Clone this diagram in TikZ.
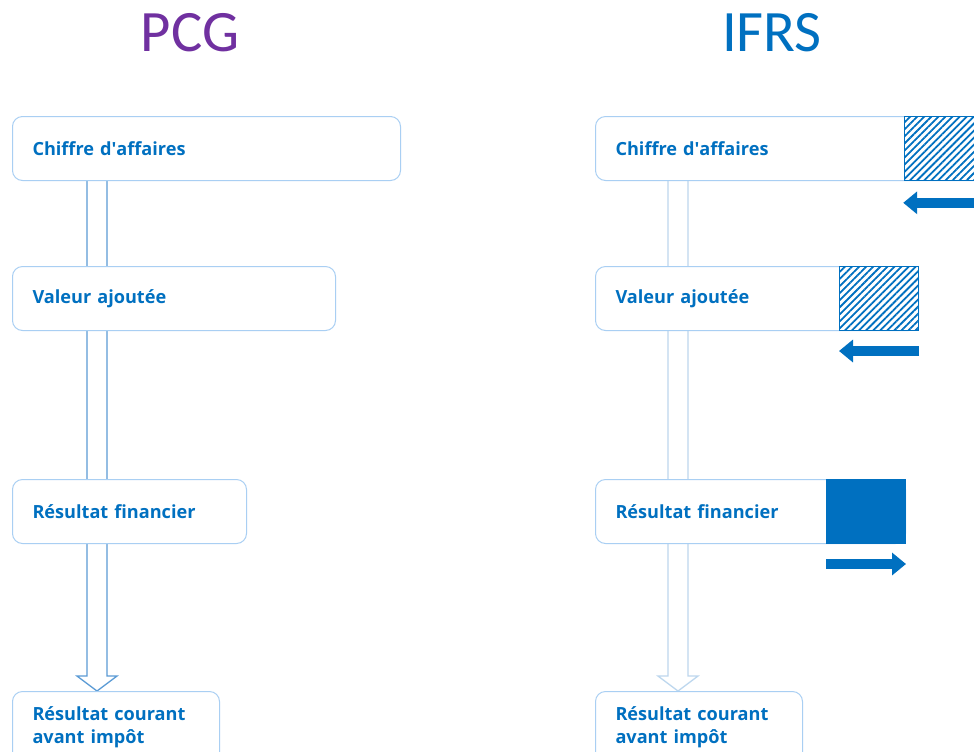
\documentclass[tikz,border=0pt]{standalone}
\usepackage{fontspec}
\setmainfont{Open Sans}
\newfontfamily\titrefont{Carlito}
\usetikzlibrary{calc,arrows.meta,patterns.meta}
\definecolor{IfrsBlue}{HTML}{0070C0}
\definecolor{PcgPurple}{HTML}{7030A0}
\definecolor{BoxLine}{HTML}{A9CFF3}
\definecolor{ArrowMid}{HTML}{5B9BD5}
\definecolor{ArrowPale}{HTML}{BDD7EE}
\newdimen\unitpx \unitpx=0.75pt
\pgfdeclarelayer{fond}
\pgfsetlayers{fond,main}
\tikzset{
    poste/.style={draw=BoxLine, fill=white, line width=1\unitpx, rounded corners=10\unitpx,
        anchor=north west, minimum height=64\unitpx, inner xsep=20\unitpx, inner ysep=0pt,
        text width=#1, align=left, text=IfrsBlue, font=\bfseries\fontsize{13.6}{17.25}\selectfont},
    carre/.style={anchor=north east, minimum width=79\unitpx, minimum height=64\unitpx,
        inner sep=0pt, draw=IfrsBlue, line width=1\unitpx},
    hachure/.style={carre, preaction={fill=white},
        pattern={Lines[angle=45,distance=3.75pt,line width=1.35pt]}, pattern color=IfrsBlue},
    plein/.style={carre, fill=IfrsBlue},
    bloc/.style={draw=IfrsBlue, line width=7.5pt, -{Triangle[length=10.5pt,width=16.5pt]}},
    creux/.style={line width=1.3\unitpx, line join=miter},
    titre/.style={font=\titrefont\fontsize{44}{50}\selectfont}
}
\begin{document}
\begin{tikzpicture}[x=\unitpx, y=-\unitpx]
    \clip (0,0) rectangle (974,751);
    \node[titre, text=PcgPurple] (tpcg) at (190,33) {PCG};
    \node[titre, text=IfrsBlue] (tifrs) at (772,33) {IFRS};
    % PCG
    \node[poste=348\unitpx] (pcg1) at (12,116) {Chiffre d\textquotesingle affaires};
    \node[poste=283\unitpx] (pcg2) at (12,266) {Valeur ajoutée};
    \node[poste=194\unitpx] (pcg3) at (12,479) {Résultat financier};
    \node[poste=167\unitpx, minimum height=72\unitpx] (pcg4) at (12,691) {Résultat courant\\avant impôt};
    % IFRS
    \node[poste=348\unitpx] (ifrs1) at (595,116) {Chiffre d\textquotesingle affaires};
    \node[poste=283\unitpx] (ifrs2) at (595,266) {Valeur ajoutée};
    \node[poste=270\unitpx] (ifrs3) at (595,479) {Résultat financier};
    \node[poste=167\unitpx, minimum height=72\unitpx] (ifrs4) at (595,691) {Résultat courant\\avant impôt};
    \node[hachure] (h1) at (ifrs1.north east) {};
    \node[hachure] (h2) at (ifrs2.north east) {};
    \node[plein] (s3) at (ifrs3.north east) {};
    \coordinate (f1a) at ($(h1.south east)+(0,21)$);
    \coordinate (f1b) at ($(h1.south west)+(0,21)$);
    \coordinate (f2a) at ($(h2.south east)+(0,20)$);
    \coordinate (f2b) at ($(h2.south west)+(0,20)$);
    \coordinate (f3a) at ($(s3.south west)+(0,20)$);
    \coordinate (f3b) at ($(s3.south east)+(0,20)$);
    \draw[bloc] (f1a) -- (f1b);
    \draw[bloc] (f2a) -- (f2b);
    \draw[bloc] (f3a) -- (f3b);
    \begin{pgfonlayer}{fond}
        \fill[white] (0,0) rectangle (974,751);
        \draw[creux, draw=ArrowMid] ($(pcg1.south west)+(75,0)$) -- ($(pcg4.north west)+(75,-15)$)
            -- ++(-10,0) -- ($(pcg4.north west)+(85,0)$) -- ++(20,-15) -- ++(-10,0)
            -- ($(pcg1.south west)+(95,0)$);
        \draw[creux, draw=ArrowPale] ($(ifrs1.south west)+(73,0)$) -- ($(ifrs4.north west)+(73,-15)$)
            -- ++(-10,0) -- ($(ifrs4.north west)+(83,0)$) -- ++(20,-15) -- ++(-10,0)
            -- ($(ifrs1.south west)+(93,0)$);
    \end{pgfonlayer}
\end{tikzpicture}
\end{document}
